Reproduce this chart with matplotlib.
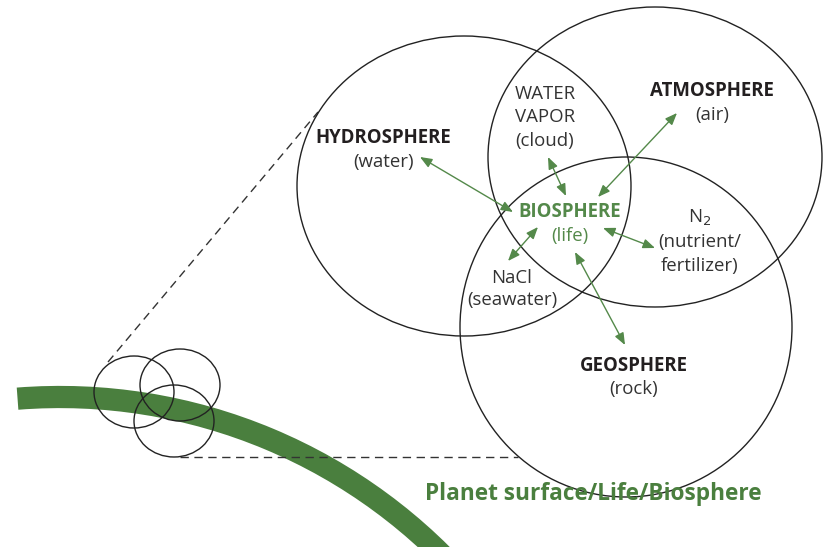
import matplotlib
matplotlib.use("Agg")
import matplotlib.pyplot as plt
from matplotlib.patches import Ellipse, Arc, FancyArrowPatch

# -----------------------------
# DIAGRAM DATA (pixel coords, y down)
# -----------------------------
sphere_names = ["hydrosphere", "atmosphere", "geosphere"]
sphere_centers = [(464, 186), (655, 157), (626, 327)]
sphere_radii = [(167, 150), (167, 150), (166, 170)]

small_centers = [(134, 392), (180, 385), (174, 421)]
small_radii = (40, 36)

# zoom guide lines
dash_top = [(108, 362), (318, 112)]
dash_bottom = [(180, 457), (518, 457)]

# planet surface band: arc centre, radius, angle range
band_center = (60, 938)
band_radius = 541
band_angles = (-94.5, -40)

# double arrows from biosphere
arrows = [
    ((420, 157), (513, 212)),   # hydrosphere
    ((548, 157), (566, 196)),   # water vapor
    ((677, 113), (598, 197)),   # atmosphere
    ((538, 227), (508, 261)),   # NaCl
    ((603, 228), (655, 248)),   # N2
    ((575, 252), (625, 345)),   # geosphere
]

bold_labels = ["HYDROSPHERE", "ATMOSPHERE", "GEOSPHERE"]
bold_pos = [(383, 138), (712, 91), (634, 366)]
plain_labels = ["(water)", "(air)", "(rock)", "WATER", "VAPOR", "(cloud)",
                "N$_2$", "(nutrient/", "fertilizer)", "NaCl", "(seawater)"]
plain_pos = [(383, 162), (712, 115), (634, 389), (545, 94), (545, 117), (545, 141),
             (700, 218), (700, 242), (700, 266), (512, 278), (512, 300)]

title = "Planet surface/Life/Biosphere"

GREEN = "#4a7f3e"
GREEN_TXT = "#54894a"
TXT = "#231f20"
FS = 13.4

fig = plt.figure(figsize=(8.25, 5.47), dpi=100)
ax = fig.add_axes([0, 0, 1, 1])
ax.set_xlim(0, 825)
ax.set_ylim(547, 0)
ax.set_aspect("equal")
ax.axis("off")

plt.rcParams['font.family'] = ['Open Sans', 'DejaVu Sans']

# planet surface band
ax.add_patch(Arc(band_center, 2 * band_radius, 2 * band_radius,
                 theta1=band_angles[0], theta2=band_angles[1],
                 color=GREEN, lw=16, capstyle="butt", zorder=1))

# dashed guides
for seg in [dash_top, dash_bottom]:
    ax.plot([seg[0][0], seg[1][0]], [seg[0][1], seg[1][1]],
            ls=(0, (6, 4)), color="#333333", lw=1.0, zorder=2)

# big spheres
for c, r in zip(sphere_centers, sphere_radii):
    ax.add_patch(Ellipse(c, 2 * r[0], 2 * r[1], fill=False,
                         ec="#222222", lw=1.0, zorder=3))

# small spheres on the planet surface
for c in small_centers:
    ax.add_patch(Ellipse(c, 2 * small_radii[0], 2 * small_radii[1], fill=False,
                         ec="#222222", lw=1.0, zorder=3))

# arrows
for a, b in arrows:
    ax.add_patch(FancyArrowPatch(a, b, arrowstyle="<|-|>,head_length=0.55,head_width=0.22",
                                 mutation_scale=13, color=GREEN_TXT, lw=1.0,
                                 shrinkA=0, shrinkB=0, zorder=4))

for s, (x, y) in zip(bold_labels, bold_pos):
    ax.text(x, y, s, ha="center", va="center", fontsize=FS, fontweight="bold", color=TXT)
for s, (x, y) in zip(plain_labels, plain_pos):
    ax.text(x, y, s, ha="center", va="center", fontsize=FS, color="#333333")

ax.text(570, 212, "BIOSPHERE", ha="center", va="center", fontsize=FS,
        fontweight="bold", color=GREEN_TXT)
ax.text(570, 236, "(life)", ha="center", va="center", fontsize=FS, color=GREEN_TXT)

ax.text(425, 494, title, ha="left", va="center", fontsize=16.3,
        fontweight="bold", color=GREEN)

fig.savefig("out.png", dpi=100)
